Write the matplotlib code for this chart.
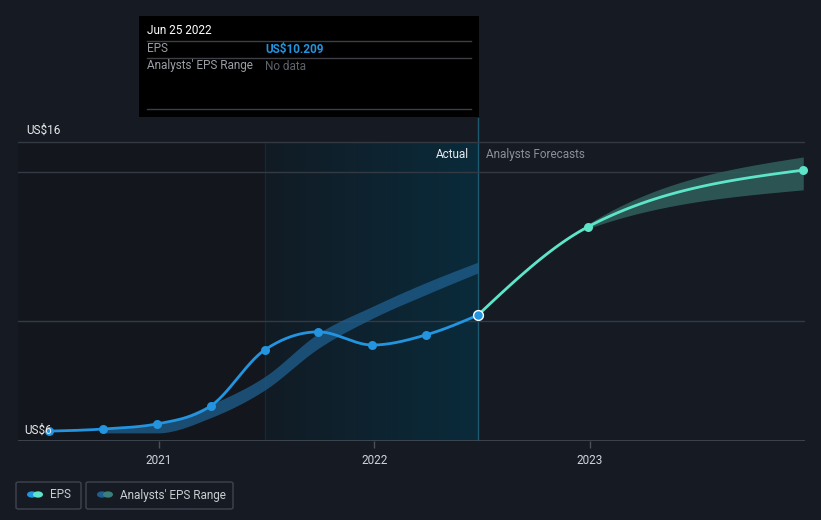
import numpy as np
import matplotlib.pyplot as plt
from matplotlib.patches import Rectangle, FancyBboxPatch, Circle
from matplotlib.colors import LinearSegmentedColormap

plt.rcParams['font.family'] = ['Roboto', 'DejaVu Sans']

# reported EPS (quarter ends, decimal years)
eps_x = [2020.49, 2020.74, 2020.99, 2021.24, 2021.49, 2021.74, 2021.99, 2022.24, 2022.48]
eps_y = [6.33, 6.40, 6.57, 7.17, 9.04, 9.65, 9.21, 9.55, 10.209]

# analysts' forecast EPS
fc_x = [2022.48, 2022.99, 2023.99]
fc_y = [10.209, 13.16, 15.06]
fc_low = [10.209, 13.10, 14.40]
fc_high = [10.209, 13.25, 15.50]

# past analysts' EPS range
rng_x = [2020.74, 2020.99, 2021.24, 2021.49, 2021.74, 2021.99, 2022.24, 2022.48]
rng_low = [6.27, 6.27, 6.78, 7.70, 9.10, 10.10, 10.90, 11.62]
rng_high = [6.40, 6.55, 7.22, 8.15, 9.60, 10.50, 11.30, 11.98]

year_ticks = [2021, 2022, 2023]
year_labels = ['2021', '2022', '2023']
grid_vals = [6, 10, 15, 16]

BG = '#151a23'
BLUE = '#2394df'
MINT = '#5ee5c9'


def monotone(x, y, n=60):
    # same tangents as d3.curveMonotoneX
    x = np.asarray(x, float)
    y = np.asarray(y, float)
    h = np.diff(x)
    s = np.diff(y) / h
    m = np.zeros_like(y)
    for i in range(1, len(x) - 1):
        p = (s[i - 1] * h[i] + s[i] * h[i - 1]) / (h[i - 1] + h[i])
        m[i] = (np.sign(s[i - 1]) + np.sign(s[i])) * min(abs(s[i - 1]), abs(s[i]), 0.5 * abs(p))
    if len(x) > 2:
        m[0] = (3 * s[0] - m[1]) / 2
        m[-1] = (3 * s[-1] - m[-2]) / 2
    else:
        m[:] = s[0]
    xs, ys = [], []
    for i in range(len(x) - 1):
        t = np.linspace(0, 1, n)
        h00 = 2 * t**3 - 3 * t**2 + 1
        h10 = t**3 - 2 * t**2 + t
        h01 = -2 * t**3 + 3 * t**2
        h11 = t**3 - t**2
        xs.append(x[i] + t * h[i])
        ys.append(h00 * y[i] + h10 * h[i] * m[i] + h01 * y[i + 1] + h11 * h[i] * m[i + 1])
    return np.concatenate(xs), np.concatenate(ys)


W, H = 821, 520
fig = plt.figure(figsize=(W / 100, H / 100), dpi=100, facecolor=BG)

px_per_unit = 29.9
ax_top, ax_bot = 118, 441
ax = fig.add_axes([18 / W, (H - ax_bot) / H, 787 / W, (ax_bot - ax_top) / H])
ax.set_facecolor(BG)
x0, x1 = 2020.346, 2023.998
y0, y1 = 6, 6 + (ax_bot - ax_top) / px_per_unit
ax.set_xlim(x0, x1)
ax.set_ylim(y0, y1)
for s in ax.spines.values():
    s.set_visible(False)

# past region (darker) and highlighted region (gradient)
ax.axvspan(x0, 2021.49, ymax=(16 - y0) / (y1 - y0), color='#13161d', zorder=0, lw=0)
cmap = LinearSegmentedColormap.from_list('g', ['#111b24', '#0a2b3b'])
grad = np.linspace(0, 1, 256).reshape(1, -1)
ax.imshow(grad, cmap=cmap, aspect='auto', extent=[2021.49, 2022.48, y0, 16], zorder=0.5)
ax.plot([2021.49, 2021.49], [y0, 16], color='#152a33', lw=1, zorder=0.6)
ax.plot([2022.48, 2022.48], [y0, y1], color='#1b5a70', lw=1, zorder=0.6)

for g in grid_vals[1:]:
    ax.axhline(g, color='#333a44', lw=1, zorder=1)
ax.axhline(6, color='#454b55', lw=1.2, zorder=1)

# past range band
bx, bl = monotone(rng_x, rng_low)
_, bh = monotone(rng_x, rng_high)
ax.fill_between(bx, bl, bh, color='#1f5f8f', alpha=0.75, lw=0, zorder=2)

# forecast range band
fx, fl = monotone(fc_x, fc_low)
_, fh = monotone(fc_x, fc_high)
ax.fill_between(fx, fl, fh, color='#2f5f5c', alpha=0.85, lw=0, zorder=2)

# EPS line
ex, ey = monotone(eps_x, eps_y)
ax.plot(ex, ey, color=BLUE, lw=2, zorder=3, solid_capstyle='round')
ax.scatter(eps_x[:-1], eps_y[:-1], s=42, color=BLUE, zorder=4, lw=0)
ax.scatter(eps_x[-1:], eps_y[-1:], s=50, color=BLUE, edgecolor='white', lw=1, zorder=5)

cx, cy = monotone(fc_x, fc_y)
ax.plot(cx, cy, color=MINT, lw=2, zorder=3)
ax.scatter(fc_x[1:], fc_y[1:], s=42, color=MINT, zorder=4, lw=0, clip_on=False)

# x ticks
ax.set_xticks(year_ticks)
ax.set_xticklabels(year_labels)
ax.set_yticks([])
ax.tick_params(axis='x', colors='#4a505a', length=5, width=1, labelcolor='#d0d4da', labelsize=8.5, pad=4)

ax.text(2022.48 - 0.04, 16 - 0.2, 'Actual', color='#e8eaed', fontsize=8.5, ha='right', va='top', zorder=6)
ax.text(2022.48 + 0.04, 16 - 0.2, 'Analysts Forecasts', color='#8a9099', fontsize=8.5, ha='left', va='top', zorder=6)


def fx_(px):
    return px / W


def fy_(py):
    return 1 - py / H


fig.text(fx_(26), fy_(130), 'US$16', color='#e8eaed', fontsize=8.5, va='center')
fig.text(fx_(24), fy_(430), 'US$6', color='#e8eaed', fontsize=8.5, va='center', zorder=1)

# tooltip
fig.patches.append(Rectangle((fx_(139), fy_(117)), 340 / W, 101 / H, transform=fig.transFigure,
                             facecolor='black', edgecolor='none', zorder=10))
fig.text(fx_(147), fy_(31), 'Jun 25 2022', color='white', fontsize=8.5, va='center', zorder=11)
for ly in (41, 58, 109):
    fig.add_artist(plt.Line2D([fx_(147), fx_(471)], [fy_(ly), fy_(ly)], color='#3d3f44', lw=1,
                              transform=fig.transFigure, zorder=11))
fig.text(fx_(147), fy_(49), 'EPS', color='#9a9ea5', fontsize=8.5, va='center', zorder=11)
fig.text(fx_(265), fy_(49), 'US$10.209', color=BLUE, fontsize=8.5, va='center', weight='bold', zorder=11)
fig.text(fx_(147), fy_(66), "Analysts' EPS Range", color='#9a9ea5', fontsize=8.5, va='center', zorder=11)
fig.text(fx_(265), fy_(66), 'No data', color='#5f636a', fontsize=8.5, va='center', zorder=11)


# legend
def legend_box(xl, w, c1, c2, label):
    fig.patches.append(FancyBboxPatch((fx_(xl), fy_(509)), w / W, 27 / H, boxstyle='round,pad=0,rounding_size=0.003',
                                      transform=fig.transFigure, facecolor='none', edgecolor='#3f4550', lw=1))
    fig.patches.append(Circle((fx_(xl + 16), fy_(494.5)), 5 / W, transform=fig.transFigure, facecolor=c1, lw=0))
    fig.patches.append(Circle((fx_(xl + 22), fy_(494.5)), 5 / W, transform=fig.transFigure, facecolor=c2, lw=0))
    fig.text(fx_(xl + 34), fy_(495), label, color='#c9cdd3', fontsize=8.5, va='center')


legend_box(16, 65, BLUE, MINT, 'EPS')
legend_box(86, 147, '#1f5f8f', '#3a7f7c', "Analysts' EPS Range")

fig.savefig('out.png', dpi=100, facecolor=BG)
